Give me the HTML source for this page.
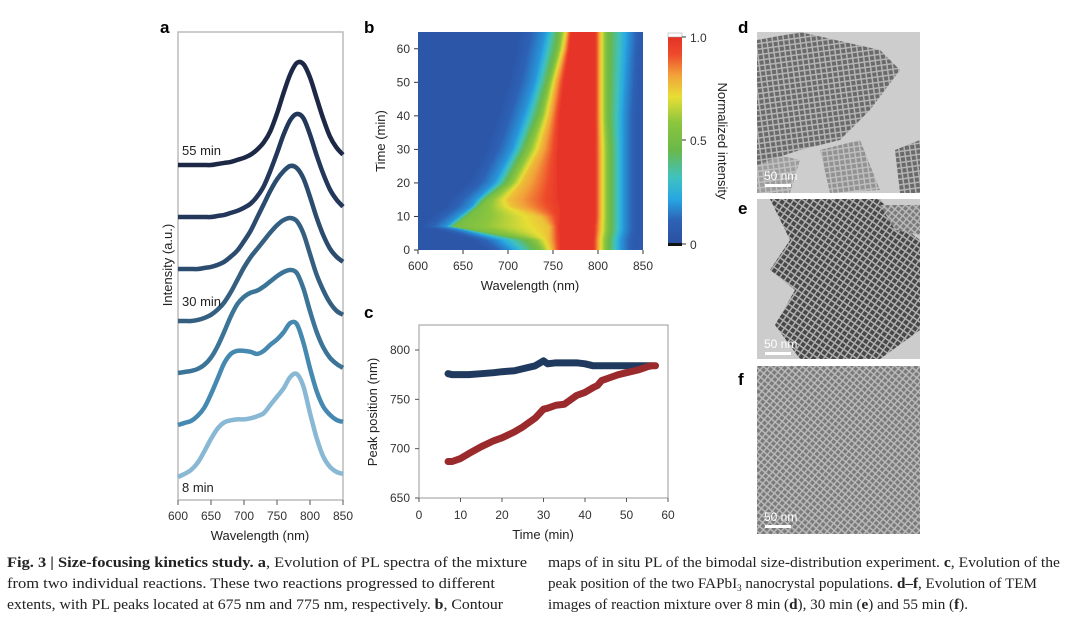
<!DOCTYPE html>
<html><head><meta charset="utf-8"><style>
body{margin:0;background:#fff;}
#wrap{position:relative;width:1085px;height:620px;overflow:hidden;font-family:"Liberation Sans",sans-serif;}
svg{position:absolute;left:0;top:0;}
#heat{position:absolute;left:418px;top:32px;}
</style></head><body>
<div id="wrap">
<canvas id="heat" width="225" height="218"></canvas>
<svg id="svg" width="1085" height="620" xmlns="http://www.w3.org/2000/svg" font-family="Liberation Sans, sans-serif">
<defs>
<linearGradient id="cbar" x1="0" y1="1" x2="0" y2="0">
<stop offset="0" stop-color="#2b4e9e"/><stop offset="0.12" stop-color="#2d62b6"/><stop offset="0.22" stop-color="#27a6e3"/><stop offset="0.32" stop-color="#3fc2c0"/><stop offset="0.45" stop-color="#6ab84a"/><stop offset="0.58" stop-color="#8cc63e"/><stop offset="0.7" stop-color="#e8de35"/><stop offset="0.8" stop-color="#f2a33a"/><stop offset="0.9" stop-color="#ee4a2c"/><stop offset="1" stop-color="#e22b26"/>
</linearGradient>
<pattern id="np1" width="5.5" height="5.5" patternUnits="userSpaceOnUse" patternTransform="rotate(-8)"><rect width="5.5" height="5.5" fill="#b4b4b4"/><rect x="1" y="1" width="4" height="4" fill="#6a6a6a"/></pattern>
<pattern id="np2" width="5.5" height="5.5" patternUnits="userSpaceOnUse" patternTransform="rotate(35)"><rect width="5.5" height="5.5" fill="#b0b0b0"/><rect x="1" y="1" width="4" height="4" fill="#474747"/></pattern>
<pattern id="np3" width="5" height="5" patternUnits="userSpaceOnUse" patternTransform="rotate(40)"><rect width="5" height="5" fill="#bdbdbd"/><rect x="0.8" y="0.8" width="3.6" height="3.6" fill="#7a7a7a"/></pattern>
<clipPath id="cd"><rect x="757" y="32" width="163" height="161"/></clipPath>
<clipPath id="ce"><rect x="757" y="199" width="163" height="160"/></clipPath>
</defs>

<!-- Panel a -->
<text x="160" y="33" font-size="17" font-weight="bold">a</text>
<rect x="178" y="32" width="165" height="468" fill="none" stroke="#bbb" stroke-width="1.5"/>
<g id="aCurves"></g>
<g id="aAxis"></g>
<text x="182" y="155" font-size="13" fill="#222">55 min</text>
<text x="182" y="306" font-size="13" fill="#222">30 min</text>
<text x="182" y="492" font-size="13" fill="#222">8 min</text>
<text x="260" y="540" font-size="13" text-anchor="middle" fill="#222">Wavelength (nm)</text>
<text transform="translate(172,265) rotate(-90)" font-size="13" text-anchor="middle" fill="#222">Intensity (a.u.)</text>

<!-- Panel b -->
<text x="364" y="33" font-size="17" font-weight="bold">b</text>
<g id="bAxis"></g>
<text x="530" y="290" font-size="13" text-anchor="middle" fill="#222">Wavelength (nm)</text>
<text transform="translate(385,141) rotate(-90)" font-size="13" text-anchor="middle" fill="#222">Time (min)</text>
<rect x="668" y="33" width="14" height="213" fill="url(#cbar)"/>
<rect x="668" y="33" width="14" height="4" fill="#fff" stroke="#999" stroke-width="0.5"/>
<rect x="668" y="243" width="14" height="3" fill="#111"/>
<line x1="682" y1="37" x2="686" y2="37" stroke="#333"/><line x1="682" y1="140" x2="686" y2="140" stroke="#333"/><line x1="682" y1="244" x2="686" y2="244" stroke="#333"/>
<text x="690" y="42" font-size="12" fill="#333">1.0</text>
<text x="690" y="145" font-size="12" fill="#333">0.5</text>
<text x="690" y="249" font-size="12" fill="#333">0</text>
<text transform="translate(718,141) rotate(90)" font-size="13" text-anchor="middle" fill="#222">Normalized intensity</text>

<!-- Panel c -->
<text x="364" y="318" font-size="17" font-weight="bold">c</text>
<rect x="419" y="325" width="249" height="173" fill="none" stroke="#999" stroke-width="1"/>
<g id="cAxis"></g>
<g id="cSeries"></g>
<text x="543" y="539" font-size="13" text-anchor="middle" fill="#222">Time (min)</text>
<text transform="translate(377,412) rotate(-90)" font-size="13" text-anchor="middle" fill="#222">Peak position (nm)</text>

<!-- TEM panels -->
<text x="738" y="33" font-size="17" font-weight="bold">d</text>
<g>
<rect x="757" y="32" width="163" height="161" fill="#cdcdcd"/>
<g clip-path="url(#cd)"><polygon points="757,40 800,32 880,50 900,70 870,110 840,140 800,150 770,160 757,165" fill="url(#np1)"/>
<polygon points="820,150 860,140 880,190 830,193" fill="url(#np1)" opacity="0.6"/>
<polygon points="895,150 920,140 920,193 900,193" fill="url(#np1)"/>
<polygon points="757,150 800,160 790,193 757,193" fill="url(#np1)" opacity="0.5"/></g>
<rect x="765" y="184" width="26" height="3" fill="#fff"/>
<text x="764" y="180" font-size="12" fill="#fff">50 nm</text>
</g>
<text x="738" y="214" font-size="17" font-weight="bold">e</text>
<g>
<rect x="757" y="199" width="163" height="160" fill="#cccccc"/>
<g clip-path="url(#ce)"><polygon points="770,199 880,199 900,225 920,240 920,330 880,359 800,359 775,325 795,290 770,270 790,240" fill="url(#np2)"/>
<polygon points="880,205 920,205 920,235 895,230" fill="url(#np3)"/></g>
<rect x="765" y="352" width="26" height="3" fill="#fff"/>
<text x="764" y="348" font-size="12" fill="#fff">50 nm</text>
</g>
<text x="738" y="385" font-size="17" font-weight="bold">f</text>
<g>
<rect x="757" y="366" width="163" height="168" fill="url(#np3)"/>
<rect x="765" y="525" width="26" height="3" fill="#fff"/>
<text x="764" y="521" font-size="12" fill="#fff">50 nm</text>
</g>

<!-- Caption -->
<g font-family="Liberation Serif, serif" font-size="15" fill="#222">
<text x="7" y="567" textLength="520" lengthAdjust="spacingAndGlyphs"><tspan font-weight="bold">Fig. 3 | Size-focusing kinetics study. a</tspan>, Evolution of PL spectra of the mixture</text>
<text x="7" y="588" textLength="488" lengthAdjust="spacingAndGlyphs">from two individual reactions. These two reactions progressed to different</text>
<text x="7" y="609" textLength="496" lengthAdjust="spacingAndGlyphs">extents, with PL peaks located at 675 nm and 775 nm, respectively. <tspan font-weight="bold">b</tspan>, Contour</text>
<text x="548" y="567" textLength="512" lengthAdjust="spacingAndGlyphs">maps of in situ PL of the bimodal size-distribution experiment. <tspan font-weight="bold">c</tspan>, Evolution of the</text>
<text x="548" y="588" textLength="489" lengthAdjust="spacingAndGlyphs">peak position of the two FAPbI<tspan font-size="9" dy="3">3</tspan><tspan dy="-3"> nanocrystal populations. </tspan><tspan font-weight="bold">d–f</tspan>, Evolution of TEM</text>
<text x="548" y="609" textLength="420" lengthAdjust="spacingAndGlyphs">images of reaction mixture over 8 min (<tspan font-weight="bold">d</tspan>), 30 min (<tspan font-weight="bold">e</tspan>) and 55 min (<tspan font-weight="bold">f</tspan>).</text>
</g>
</svg>
</div>
<script>
// ---------- Panel a data ----------
const aWavelengths = [600,610,620,630,640,650,660,670,680,690,700,710,720,730,740,750,760,770,780,790,800,810,820,830,840,850];
const aLabels = ['55 min','50 min','40 min','30 min','20 min','13 min','8 min'];
const aSpec55 = [0,0,0,0,0,0,0.01,0.02,0.03,0.05,0.07,0.1,0.15,0.22,0.33,0.5,0.7,0.88,0.99,0.98,0.85,0.65,0.45,0.28,0.17,0.1];
const aSpec50 = [0,0,0,0,0,0,0.01,0.02,0.04,0.06,0.09,0.13,0.2,0.3,0.45,0.62,0.8,0.94,1.0,0.96,0.8,0.6,0.42,0.27,0.17,0.1];
const aSpec40 = [0,0,0,0,0.01,0.02,0.04,0.07,0.12,0.18,0.27,0.37,0.5,0.63,0.76,0.87,0.95,1.0,0.98,0.88,0.7,0.5,0.33,0.2,0.12,0.07];
const aSpec30 = [0,0,0,0.01,0.03,0.06,0.11,0.18,0.28,0.4,0.52,0.62,0.7,0.78,0.86,0.93,0.98,1.0,0.97,0.85,0.65,0.45,0.3,0.18,0.1,0.06];
const aSpec20 = [0,0.01,0.02,0.04,0.08,0.15,0.26,0.4,0.55,0.67,0.74,0.78,0.8,0.84,0.89,0.94,0.98,1.0,0.97,0.82,0.6,0.4,0.25,0.15,0.09,0.05];
const aSpec13 = [0,0.02,0.04,0.09,0.17,0.3,0.45,0.6,0.69,0.72,0.72,0.71,0.69,0.72,0.78,0.83,0.9,0.99,0.98,0.8,0.55,0.33,0.18,0.1,0.05,0.03];
const aSpec8 = [0,0.03,0.07,0.14,0.25,0.37,0.47,0.53,0.55,0.56,0.56,0.57,0.59,0.62,0.7,0.78,0.86,0.97,1.0,0.88,0.62,0.38,0.2,0.1,0.05,0.03];
const aSeries = [aSpec55,aSpec50,aSpec40,aSpec30,aSpec20,aSpec13,aSpec8];
const aColors = ['#1d2846','#22375a','#2b4c6e','#345f80','#3b7497','#4689b0','#88b8d4'];
const aXTicks = [600,650,700,750,800,850];

// ---------- Panel b data ----------
const bTimes = [0,3,6,7,10,13,15,20,30,40,50,60,65];
const bEdgeLeft = [705,690,650,632,645,660,665,685,705,718,730,738,742];
const bHalfLeft = [735,725,660,640,655,668,675,700,720,735,745,755,758];
const bYellowLeft = [748,745,745,745,735,705,700,715,735,745,752,762,765];
const bRedLeft = [758,758,757,757,758,758,755,755,755,757,762,768,770];
const bRedRight = [795,795,796,796,797,797,797,797,797,797,797,797,797];
const bHalfRight = [810,810,812,812,812,812,812,812,812,810,810,810,810];
const bEdgeRight = [825,825,828,828,828,828,828,828,828,828,830,832,833];
const bXTicks = [600,650,700,750,800,850];
const bYTicks = [0,10,20,30,40,50,60];

// ---------- Panel c data ----------
const cTimeBlue = [7,8,10,12,15,18,20,23,25,28,30,31,33,35,38,40,42,45,48,50,53,55,56];
const cPeakBlue = [776,775,775,775,776,777,778,779,781,784,789,786,787,787,787,786,784,784,784,784,784,784,784];
const cTimeRed = [7,8,10,12,15,18,20,23,25,28,30,31,33,35,36,38,40,42,43,44,46,48,50,52,53,55,56,57];
const cPeakRed = [687,687,690,695,702,708,711,717,722,731,740,741,744,745,748,754,757,762,764,769,772,775,777,779,780,783,784,784];
const cXTicks = [0,10,20,30,40,50,60];
const cYTicks = [650,700,750,800];

const NS='http://www.w3.org/2000/svg';
function mk(tag,attrs,parent){const e=document.createElementNS(NS,tag);for(const k in attrs)e.setAttribute(k,attrs[k]);parent.appendChild(e);return e;}

// Panel a
const ax = w => 178 + (w-600)/250*165;
const ay = (i,v) => 165 + 52*i - v*103;
const aG = document.getElementById('aCurves');
aSeries.forEach((s,i)=>{
  let pts=[];for(let j=0;j<aWavelengths.length;j++)pts.push([ax(aWavelengths[j]),ay(i,s[j])]);
  let d='M'+pts[0][0]+','+pts[0][1];
  for(let j=0;j<pts.length-1;j++){const p0=pts[Math.max(0,j-1)],p1=pts[j],p2=pts[j+1],p3=pts[Math.min(pts.length-1,j+2)];
    d+=' C'+(p1[0]+(p2[0]-p0[0])/6)+','+(p1[1]+(p2[1]-p0[1])/6)+' '+(p2[0]-(p3[0]-p1[0])/6)+','+(p2[1]-(p3[1]-p1[1])/6)+' '+p2[0]+','+p2[1];}
  const p=mk('path',{d:d,fill:'none',stroke:aColors[i],'stroke-width':4.5,'stroke-linejoin':'round'},aG);
  
  
});
const aA=document.getElementById('aAxis');
aXTicks.forEach(t=>{mk('line',{x1:ax(t),y1:500,x2:ax(t),y2:505,stroke:'#555'},aA);
  const tx=mk('text',{x:ax(t),y:520,'font-size':12,'text-anchor':'middle',fill:'#333'},aA);tx.textContent=t;
  
  });

// Panel b
const bx = w => 418 + (w-600)/250*225;
const by = t => 250 - t/65*218;
const bA=document.getElementById('bAxis');
bXTicks.forEach(t=>{mk('line',{x1:bx(t),y1:250,x2:bx(t),y2:254,stroke:'#333'},bA);
  const tx=mk('text',{x:bx(t),y:270,'font-size':12,'text-anchor':'middle',fill:'#333'},bA);tx.textContent=t;
  
  });
bYTicks.forEach(t=>{mk('line',{x1:414,y1:by(t),x2:418,y2:by(t),stroke:'#333'},bA);
  const tx=mk('text',{x:410,y:by(t)+4,'font-size':12,'text-anchor':'end',fill:'#333'},bA);tx.textContent=t;
  
  });
function interp(xs,ys,x){if(x<=xs[0])return ys[0];for(let i=0;i<xs.length-1;i++)if(x<=xs[i+1]){const f=(x-xs[i])/(xs[i+1]-xs[i]);return ys[i]+f*(ys[i+1]-ys[i]);}return ys[ys.length-1];}
const cmapStops=[[0,[43,78,158]],[0.12,[45,98,182]],[0.22,[39,166,227]],[0.32,[63,194,192]],[0.45,[106,184,74]],[0.58,[140,198,62]],[0.7,[232,222,53]],[0.8,[242,163,58]],[0.9,[238,74,44]],[1,[226,43,38]]];
function cmap(v){v=Math.max(0,Math.min(1,v));for(let i=0;i<cmapStops.length-1;i++){const a=cmapStops[i],b=cmapStops[i+1];if(v<=b[0]){const f=(v-a[0])/(b[0]-a[0]);return a[1].map((c,k)=>Math.round(c+f*(b[1][k]-c)));}}return cmapStops[cmapStops.length-1][1];}
const ctx=document.getElementById('heat').getContext('2d');
for(let py=0;py<218;py++){
  const t=(218-py-0.5)/218*65;
  const L=interp(bTimes,bEdgeLeft,t),G=interp(bTimes,bHalfLeft,t),Y=interp(bTimes,bYellowLeft,t),R=interp(bTimes,bRedLeft,t),Rr=interp(bTimes,bRedRight,t),Gr=interp(bTimes,bHalfRight,t),Cr=interp(bTimes,bEdgeRight,t);
  for(let px=0;px<225;px++){
    const w=600+(px+0.5)/225*250;let v;
    if(w<L)v=Math.max(0.05,0.2-(L-w)/30*0.15);
    else if(w<G)v=0.2+(w-L)/Math.max(1,G-L)*0.3;
    else if(w<Y)v=0.5+(w-G)/Math.max(1,Y-G)*0.25;
    else if(w<R)v=0.75+(w-Y)/Math.max(1,R-Y)*0.2;
    else if(w<Rr)v=0.97;
    else if(w<Gr)v=0.95-(w-Rr)/(Gr-Rr)*0.45;
    else if(w<Cr)v=0.5-(w-Gr)/(Cr-Gr)*0.3;
    else v=Math.max(0.08,0.2-(w-Cr)/15*0.12);
    const c=cmap(v);ctx.fillStyle='rgb('+c.join(',')+')';ctx.fillRect(px,py,1,1);
  }
}

// Panel c
const cx = t => 419 + t/60*249;
const cy = v => 498 - (v-650)/150*148;
const cA=document.getElementById('cAxis');
cXTicks.forEach(t=>{mk('line',{x1:cx(t),y1:498,x2:cx(t),y2:502,stroke:'#555'},cA);
  const tx=mk('text',{x:cx(t),y:519,'font-size':12,'text-anchor':'middle',fill:'#333'},cA);tx.textContent=t;
  
  });
cYTicks.forEach(t=>{mk('line',{x1:415,y1:cy(t),x2:419,y2:cy(t),stroke:'#555'},cA);
  const tx=mk('text',{x:410,y:cy(t)+4,'font-size':12,'text-anchor':'end',fill:'#333'},cA);tx.textContent=t;
  
  });
const cS=document.getElementById('cSeries');
function series(ts,vs,col,name){
  const d=ts.map((t,i)=>(i?'L':'M')+cx(t)+','+cy(vs[i])).join(' ');
  const p=mk('path',{d:d,fill:'none',stroke:col,'stroke-width':7,'stroke-linecap':'round','stroke-linejoin':'round'},cS);
  
  
}
series(cTimeBlue,cPeakBlue,'#1f3a5e','peak-series-large');
series(cTimeRed,cPeakRed,'#9b2a2c','peak-series-small');
</script>
</body></html>
